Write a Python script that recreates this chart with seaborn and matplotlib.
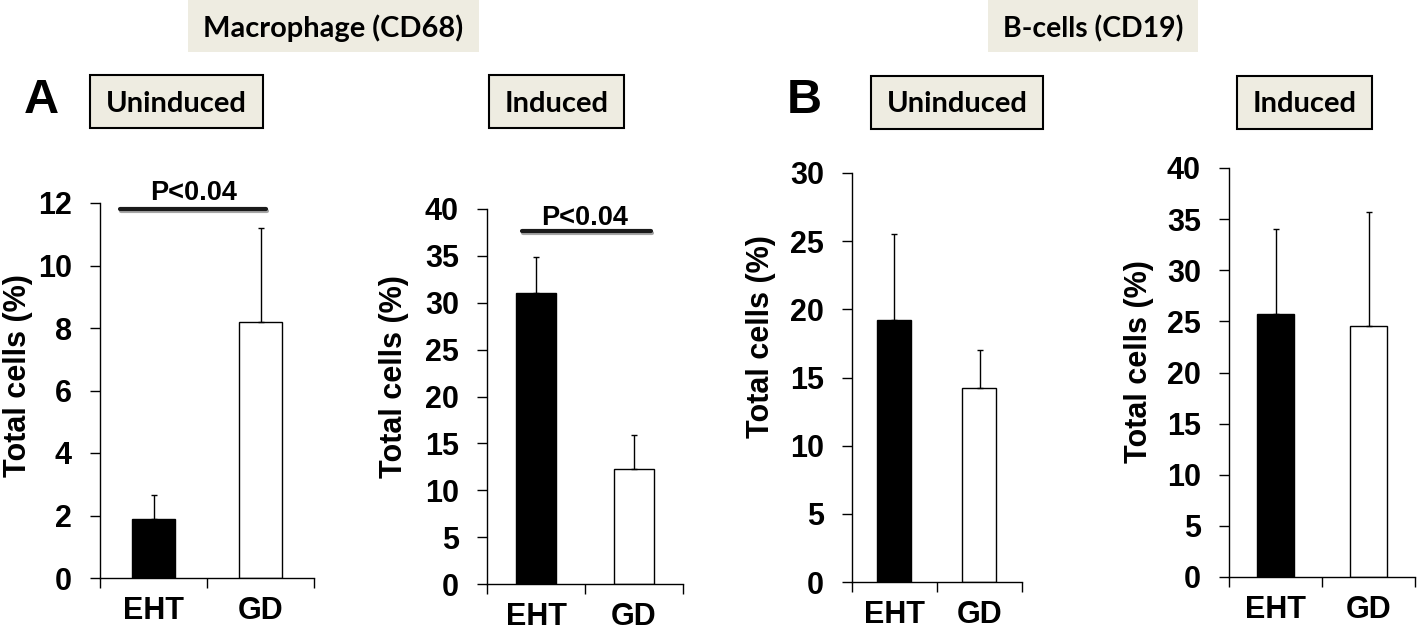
import pandas as pd
import matplotlib.pyplot as plt
import matplotlib.patheffects as pe
from matplotlib.patches import Rectangle
from matplotlib.ticker import FixedLocator
import seaborn as sns

# -------------------------------
# Data
# -------------------------------

groups = ["EHT", "GD"]

cd68_uninduced = [1.9, 8.2]
cd68_uninduced_err = [0.75, 3.0]

cd68_induced = [31.0, 12.3]
cd68_induced_err = [3.9, 3.6]

cd19_uninduced = [19.2, 14.2]
cd19_uninduced_err = [6.3, 2.8]

cd19_induced = [25.7, 24.5]
cd19_induced_err = [8.3, 11.2]

ymax = [12, 40, 30, 40]
ystep = [2, 5, 5, 5]

W, H = 1418, 635

sns.set_style("ticks")
plt.rcParams["font.family"] = ["Liberation Sans", "DejaVu Sans"]
plt.rcParams["font.weight"] = "bold"
# seaborn greys the text; the original is pure black
for key in ["text.color", "axes.labelcolor", "xtick.color", "ytick.color", "axes.edgecolor"]:
    plt.rcParams[key] = "black"

fig = plt.figure(figsize=(W / 100, H / 100), dpi=100)


def px_axes(left, right, top, bottom):
    return fig.add_axes([left / W, 1 - bottom / H, (right - left) / W, (bottom - top) / H])


# axes boxes in pixels: left, right, top, bottom
boxes = [
    (100, 314, 203, 578),
    (487, 683, 209, 584),
    (852, 1022, 173, 582),
    (1229, 1415, 168, 577),
]
series = [
    (cd68_uninduced, cd68_uninduced_err),
    (cd68_induced, cd68_induced_err),
    (cd19_uninduced, cd19_uninduced_err),
    (cd19_induced, cd19_induced_err),
]
# ylabel right edge (px) and vertical centre (axes fraction)
ylab_pos = [(33, 0.539), (409, 0.552), (776, 0.601), (1154, 0.526)]

axes = []
for i, (box, (vals, errs)) in enumerate(zip(boxes, series)):
    ax = px_axes(*box)
    df = pd.DataFrame({"group": groups, "value": vals})

    sns.barplot(
        data=df,
        x="group",
        y="value",
        hue="group",
        palette=["black", "white"],
        edgecolor="black",
        linewidth=1,
        width=0.4,
        errorbar=None,
        legend=False,
        ax=ax
    )

    ax.errorbar(
        [0, 1], vals,
        yerr=[[0, 0], errs],
        fmt="none",
        ecolor="black",
        elinewidth=1,
        capsize=2.5,
        capthick=1
    )

    ax.set_xlim(-0.5, 1.5)
    ax.set_ylim(0, ymax[i])
    ax.set_yticks(range(0, ymax[i] + 1, ystep[i]))
    ax.xaxis.set_minor_locator(FixedLocator([-0.5, 0.5, 1.5]))

    ax.tick_params(axis="y", labelsize=22, length=7.2, width=1, pad=13, color="black")
    ax.tick_params(axis="x", which="major", labelsize=22, length=0, pad=13)
    ax.tick_params(axis="x", which="minor", length=7.2, width=1, color="black")

    for s in ["top", "right"]:
        ax.spines[s].set_visible(False)
    for s in ["left", "bottom"]:
        ax.spines[s].set_linewidth(1)
        ax.spines[s].set_color("black")

    ax.set_xlabel("")
    ax.set_ylabel("Total cells (%)", fontsize=22, fontweight="bold")
    left, right = box[0], box[1]
    ax.yaxis.set_label_coords((ylab_pos[i][0] - left) / (right - left), ylab_pos[i][1])
    axes.append(ax)

# -------------------------------
# Significance bars
# -------------------------------

shadow = [pe.SimpleLineShadow(offset=(0.8, -1.2), alpha=0.35), pe.Normal()]

axes[0].plot([-0.31, 1.05], [11.8, 11.8], color="#1a1a1a", lw=3,
             clip_on=False, path_effects=shadow)
axes[0].text(0.37, 12.1, "P<0.04", ha="center", va="baseline",
             fontsize=19.5, fontweight="bold", clip_on=False)

axes[1].plot([-0.14, 1.17], [37.65, 37.65], color="#1a1a1a", lw=3,
             clip_on=False, path_effects=shadow)
axes[1].text(0.5, 38.3, "P<0.04", ha="center", va="baseline",
             fontsize=19.5, fontweight="bold", clip_on=False)

# -------------------------------
# Header boxes and panel letters
# -------------------------------

beige = "#EEECE1"
renderer = fig.canvas.get_renderer()


def header(x0, x1, y0, y1, label, baseline, text_w, border):
    fig.add_artist(Rectangle(
        (x0 / W, 1 - y1 / H), (x1 - x0) / W, (y1 - y0) / H,
        transform=fig.transFigure,
        facecolor=beige,
        edgecolor="black" if border else "none",
        linewidth=1.5 if border else 0
    ))
    t = fig.text((x0 + x1) / 2 / W, 1 - baseline / H, label,
                 ha="center", va="baseline", fontsize=22,
                 fontweight="bold", family=["Lato", "DejaVu Sans"])
    w = t.get_window_extent(renderer=renderer).width
    t.set_fontsize(22 * text_w / w)


header(188, 479, 0, 52, "Macrophage (CD68)", 37, 260, False)
header(988, 1198, 0, 52, "B-cells (CD19)", 37, 180, False)
header(90, 263, 75, 128, "Uninduced", 112, 141, True)
header(489, 624, 75, 128, "Induced", 112, 104, True)
header(871, 1043, 76, 129, "Uninduced", 112, 141, True)
header(1237, 1372, 76, 129, "Induced", 112, 104, True)

fig.text(41 / W, 1 - 113 / H, "A", ha="center", va="baseline",
         fontsize=35, fontweight="bold")
fig.text(804 / W, 1 - 113 / H, "B", ha="center", va="baseline",
         fontsize=35, fontweight="bold")

fig.savefig("out.png", dpi=100)
print("saved out.png")
